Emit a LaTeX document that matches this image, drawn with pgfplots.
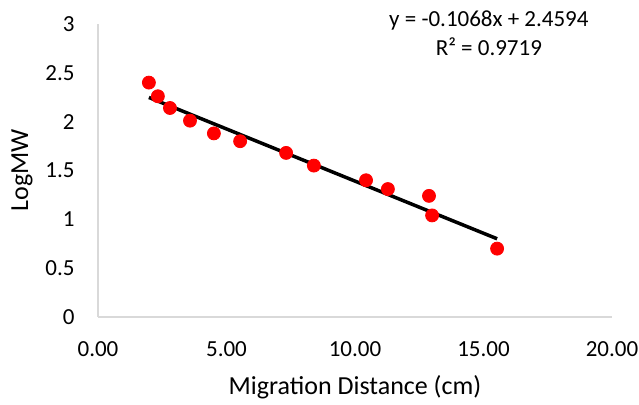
\documentclass[border=0pt]{standalone}
\usepackage{fontspec}
\setmainfont{Carlito}
\usepackage{pgfplots}
\pgfplotsset{compat=1.18}
\definecolor{axisgray}{HTML}{D9D9D9}
\begin{document}
\begin{tikzpicture}
\begin{axis}[
  scale only axis, width=257pt, height=146.5pt,
  xmin=0, xmax=20, ymin=0, ymax=3,
  xtick={0,5,10,15,20}, ytick={0,0.5,1,1.5,2,2.5,3},
  axis x line=bottom, axis y line=left,
  axis line style={draw=axisgray, line width=0.65pt, -},
  major tick length=0pt,
  clip=false,
  /pgf/number format/assume math mode=true,
  x tick label style={/pgf/number format/.cd, fixed, fixed zerofill, precision=2, /tikz/.cd,
    font=\fontsize{11.5}{13.8}\selectfont, inner sep=0pt, anchor=base, yshift=-20pt},
  y tick label style={font=\fontsize{11.5}{13.8}\selectfont, inner sep=0pt, anchor=east, xshift=-11.5pt},
  xlabel={Migration Distance (cm)},
  xlabel style={font=\fontsize{13}{15.6}\selectfont, inner sep=0pt, at={(axis description cs:0.5,0)}, anchor=base, yshift=-39pt},
  ylabel={LogMW},
  ylabel style={font=\fontsize{13}{15.6}\selectfont, inner sep=0pt, at={(axis description cs:0,0.5)}, anchor=center, yshift=38pt},
]
\addplot[only marks, mark=*, mark size=3.25pt, color=red, mark options={draw=red, fill=red}]
  coordinates {
    (1.98,2.40) (2.33,2.26) (2.80,2.14) (3.58,2.01) (4.51,1.88) (5.53,1.80)
    (7.32,1.68) (8.40,1.55) (10.43,1.40) (11.28,1.31) (12.88,1.24) (13.00,1.04)
    (15.53,0.70)
  };
\addplot[black, line width=1.75pt] coordinates {(1.98,2.2479) (15.53,0.8008)};
\node[font=\fontsize{11.5}{13.8}\selectfont, anchor=base, inner sep=0pt] at (axis cs:15.21,2.971) {y = -0.1068x + 2.4594};
\node[font=\fontsize{11.5}{13.8}\selectfont, anchor=base, inner sep=0pt] at (axis cs:15.21,2.682) {R² = 0.9719};
\coordinate (o) at (rel axis cs:0,0);
\end{axis}
\path (o) ++(-49pt,-44pt) rectangle ++(319.5pt,202.5pt);
\end{tikzpicture}
\end{document}
